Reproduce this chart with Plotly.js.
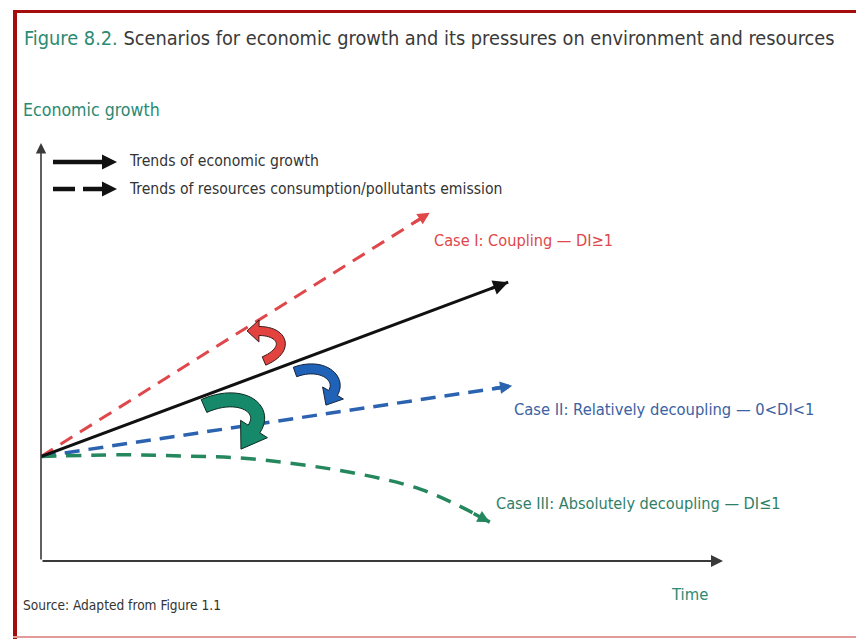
<!DOCTYPE html>
<html>
<head>
<meta charset="utf-8">
<script src="https://cdn.plot.ly/plotly-3.0.1.min.js"></script>
<style>html,body{margin:0;padding:0;background:#fff;}#chart{width:856px;height:639px;}</style>
</head>
<body>
<div id="chart"></div>
<script>
// ---- data (conceptual units: time 0-100, level 0-100) ----
const econTime = [0, 68.5];
const econLevel = [25, 66.7];
const couplingTime = [0, 57.0];
const couplingLevel = [25, 83.3];
const relativeTime = [0, 69.1];
const relativeLevel = [25, 41.9];
const absoluteTime = [0, 11.6, 21.4, 31.1, 45.7, 55.6, 61.9, 65.8];
const absoluteLevel = [25, 25.4, 25.1, 24.4, 21.1, 17.2, 12.7, 9.3];

const legendLabels = ["Trends of economic growth", "Trends of resources consumption/pollutants emission"];
const caseLabels = ["Case I: Coupling — DI≥1", "Case II: Relatively decoupling — 0<DI<1", "Case III: Absolutely decoupling — DI≤1"];
const titleLead = "Figure 8.2.";
const titleRest = " Scenarios for economic growth and its pressures on environment and resources";
const yTitle = "Economic growth";
const xTitle = "Time";
const sourceNote = "Source: Adapted from Figure 1.1";

// ---- layout geometry ----
const W = 856, H = 639;
const L = 41, R = 723, T = 143, B = 561;
const px2x = p => (p - L) / (R - L) * 100;
const py2y = p => (B - p) / (B - T) * 100;
const x2px = v => L + v / 100 * (R - L);
const y2py = v => B - v / 100 * (B - T);
const pxPaper = p => (p - L) / (R - L);
const pyPaper = p => (B - p) / (B - T);

const FONT = "'Liberation Sans Narrow', 'DejaVu Sans Condensed', 'Liberation Sans', Arial, sans-serif";
const RED = '#e0474b', BLUE = '#2b63b0', GREEN = '#24875d', TEAL = '#2a8a72';

function lineTrace(x, y, color, width, dash, shape) {
  return {x: x, y: y, type: 'scatter', mode: 'lines', hoverinfo: 'skip', showlegend: false,
          line: {color: color, width: width, dash: dash || 'solid', shape: shape || 'linear', smoothing: 1}};
}

const traces = [
  lineTrace(couplingTime, couplingLevel, RED, 3, '14px,9px'),
  lineTrace(relativeTime, relativeLevel, BLUE, 3.5, '15px,9px'),
  lineTrace(absoluteTime, absoluteLevel, GREEN, 3.5, '15px,10px', 'spline'),
  lineTrace(econTime, econLevel, '#111', 3),
  // legend samples
  lineTrace([px2x(53), px2x(110)], [py2y(162), py2y(162)], '#111', 4.5),
  lineTrace([px2x(53), px2x(110)], [py2y(189), py2y(189)], '#111', 4.5, '22px,8px')
];

// arrowhead placed at the last point, oriented along the last segment (short tail)
function headAnn(xs, ys, color, width, size) {
  const n = xs.length;
  const X1 = x2px(xs[n-1]), Y1 = y2py(ys[n-1]), X0 = x2px(xs[n-2]), Y0 = y2py(ys[n-2]);
  const len = Math.hypot(X1 - X0, Y1 - Y0), back = 20;
  const tx = X1 - (X1 - X0) / len * back, ty = Y1 - (Y1 - Y0) / len * back;
  return {x: xs[n-1], y: ys[n-1], ax: px2x(tx), ay: py2y(ty), xref: 'x', yref: 'y', axref: 'x', ayref: 'y',
          text: '', showarrow: true, arrowhead: 2, arrowsize: size, arrowwidth: width, arrowcolor: color, standoff: 0, startstandoff: 0};
}

function txt(text, x, y, size, color, anchor) {
  return {text: text, x: pxPaper(x), y: pyPaper(y), xref: 'paper', yref: 'paper', showarrow: false,
          xanchor: anchor || 'left', yanchor: 'middle', font: {family: FONT, size: size, color: color}};
}

const annotations = [
  // axes with arrows
  {x: 0, y: 100, ax: 0, ay: 0, xref: 'x', yref: 'y', axref: 'x', ayref: 'y', text: '', showarrow: true,
   arrowhead: 2, arrowsize: 1.3, arrowwidth: 1.6, arrowcolor: '#3a3a3a', standoff: 0},
  {x: 100, y: 0, ax: 0, ay: 0, xref: 'x', yref: 'y', axref: 'x', ayref: 'y', text: '', showarrow: true,
   arrowhead: 2, arrowsize: 1.2, arrowwidth: 2, arrowcolor: '#3a3a3a', standoff: 0},
  headAnn(couplingTime, couplingLevel, RED, 3, 0.8),
  headAnn(relativeTime, relativeLevel, BLUE, 3.5, 0.7),
  headAnn(absoluteTime, absoluteLevel, GREEN, 3.5, 0.7),
  headAnn(econTime, econLevel, '#111', 3, 1),
  headAnn([px2x(53), px2x(117)], [py2y(162), py2y(162)], '#111', 4, 0.75),
  headAnn([px2x(53), px2x(117)], [py2y(189), py2y(189)], '#111', 4, 0.75),
  txt(legendLabels[0], 127, 161, 15.6, '#333'),
  txt(legendLabels[1], 127, 189, 15.6, '#333'),
  txt(caseLabels[0], 432, 240, 16.2, RED),
  txt(caseLabels[1], 512, 409, 16.4, '#3b62a2'),
  txt(caseLabels[2], 494, 503, 16.2, '#2f7f68'),
  txt(yTitle, 21, 110, 17.6, TEAL),
  txt(xTitle, 669, 594, 16.5, TEAL),
  txt(sourceNote, 21, 605, 13.6, '#333')
];

// curved fat arrows (pixel geometry -> data coords)
function bez(p0, c1, c2, p3, t) {
  const u = 1 - t;
  return [u*u*u*p0[0] + 3*u*u*t*c1[0] + 3*u*t*t*c2[0] + t*t*t*p3[0],
          u*u*u*p0[1] + 3*u*u*t*c1[1] + 3*u*t*t*c2[1] + t*t*t*p3[1]];
}
function curvedArrow(p0, c1, c2, p3, sw, hw, hl) {
  const N = 24, left = [], right = [];
  let tx = 0, ty = 0;
  for (let i = 0; i <= N; i++) {
    const t = i / N;
    const a = bez(p0, c1, c2, p3, Math.max(0, t - 0.01)), b = bez(p0, c1, c2, p3, Math.min(1, t + 0.01));
    let dx = b[0] - a[0], dy = b[1] - a[1];
    const len = Math.hypot(dx, dy); dx /= len; dy /= len;
    tx = dx; ty = dy;
    const p = bez(p0, c1, c2, p3, t);
    left.push([p[0] - dy * sw / 2, p[1] + dx * sw / 2]);
    right.push([p[0] + dy * sw / 2, p[1] - dx * sw / 2]);
  }
  const hL = [p3[0] - ty * hw / 2, p3[1] + tx * hw / 2];
  const hR = [p3[0] + ty * hw / 2, p3[1] - tx * hw / 2];
  const tip = [p3[0] + tx * hl, p3[1] + ty * hl];
  const pts = left.concat([hL, tip, hR]).concat(right.reverse());
  return 'M ' + pts.map(p => px2x(p[0]).toFixed(3) + ',' + py2y(p[1]).toFixed(3)).join(' L ') + ' Z';
}

const shapes = [
  // frame
  {type: 'rect', xref: 'paper', yref: 'paper', x0: pxPaper(13), x1: pxPaper(17), y0: pyPaper(639), y1: pyPaper(10), fillcolor: '#a50d0d', line: {width: 0}, layer: 'above'},
  {type: 'rect', xref: 'paper', yref: 'paper', x0: pxPaper(13), x1: pxPaper(856), y0: pyPaper(13), y1: pyPaper(10), fillcolor: '#a50d0d', line: {width: 0}, layer: 'above'},
  {type: 'rect', xref: 'paper', yref: 'paper', x0: pxPaper(13), x1: pxPaper(856), y0: pyPaper(638), y1: pyPaper(636), fillcolor: '#e39a9a', line: {width: 0}, layer: 'above'},
  // curved arrows
  {type: 'path', xref: 'x', yref: 'y', path: curvedArrow([264, 361], [290, 350], [284, 331], [259, 331], 9, 22, 12), fillcolor: '#e2433f', line: {color: '#3a1a1a', width: 1}},
  {type: 'path', xref: 'x', yref: 'y', path: curvedArrow([295, 372], [322, 362], [342, 378], [333, 393], 10, 24, 14), fillcolor: '#1f62b8', line: {color: '#14233a', width: 1}},
  {type: 'path', xref: 'x', yref: 'y', path: curvedArrow([204, 406], [240, 390], [268, 408], [254, 429], 14, 32, 24), fillcolor: '#16896a', line: {color: '#0f2a22', width: 1}}
];

const layout = {
  width: W, height: H, autosize: false,
  margin: {l: L, r: W - R, t: T, b: H - B, pad: 0},
  paper_bgcolor: '#ffffff', plot_bgcolor: '#ffffff',
  showlegend: false,
  title: {text: '<span style="color:' + TEAL + '">' + titleLead + '</span>' + titleRest,
          x: 24 / W, xref: 'container', xanchor: 'left', y: 1 - 38 / H, yref: 'container', yanchor: 'middle',
          font: {family: FONT, size: 19.8, color: '#3a3a3a'}},
  xaxis: {range: [0, 100], visible: false, fixedrange: true},
  yaxis: {range: [0, 100], visible: false, fixedrange: true},
  annotations: annotations,
  shapes: shapes
};

Plotly.newPlot('chart', traces, layout, {staticPlot: true, displayModeBar: false});
</script>
</body>
</html>
